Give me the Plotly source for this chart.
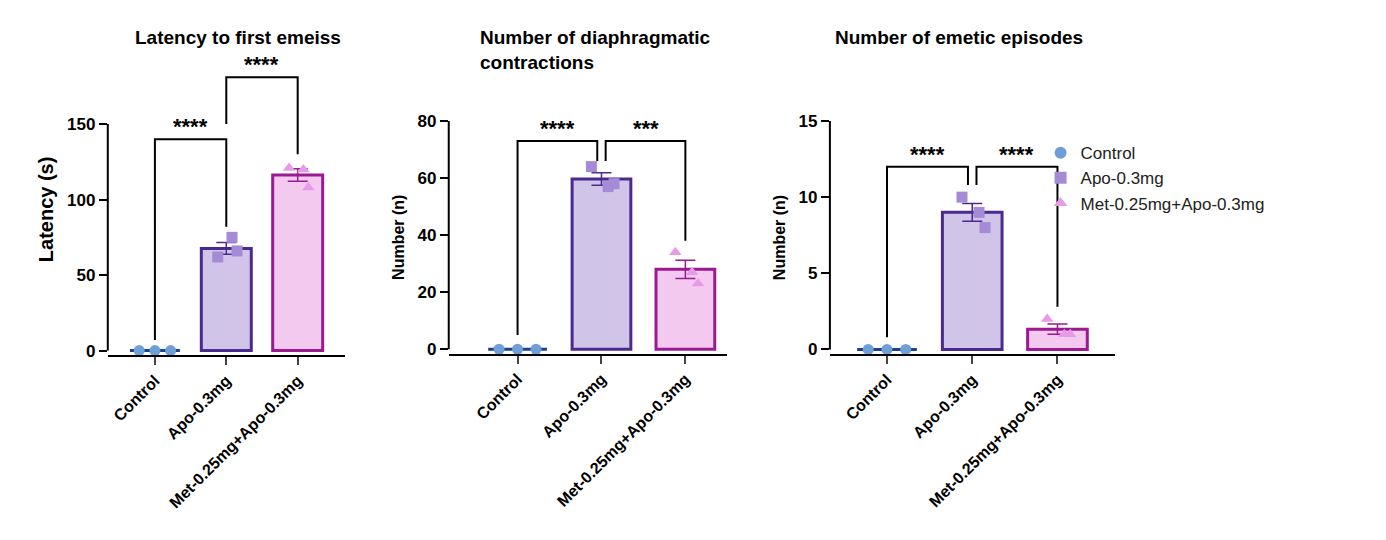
import numpy as np
import plotly.graph_objects as go

groups = ["Control", "Apo-0.3mg", "Met-0.25mg+Apo-0.3mg"]
latency = [[0, 0, 0], [62, 75, 66], [121, 120, 108]]
contractions = [[0, 0, 0], [64, 57, 58], [34, 27, 23]]
episodes = [[0, 0, 0], [10, 9, 8], [2, 1, 1]]

fills = ["#7aa3dc", "#d0c4e8", "#f4c9f0"]
lines = ["#1f3f8f", "#4b2a8f", "#9a1a8f"]
mcols = ["#6f9fd8", "#a58bd6", "#e79be6"]
symbols = ["circle", "square", "triangle-up"]

panels = [
    dict(data=latency, xd=[0.072, 0.243], yd=[0.356, 0.911], xr=[-0.66, 2.66], yr=[-3, 190], ymax=150, dt=50,
         ytitle="Latency (s)", ytf=20, brackets=[(0, 1, 140, 7, 82), (1, 2, 181, 150, 130)],
         stars=["****", "****"]),
    dict(data=contractions, xd=[0.318, 0.519], yd=[0.359, 0.802], xr=[-0.82, 2.5], yr=[-1.5, 80], ymax=80, dt=20,
         ytitle="Number (n)", ytf=16, brackets=[(0, 0.95, 73, 5, 66), (1.05, 2, 73, 66, 38)],
         stars=["****", "***"]),
    dict(data=episodes, xd=[0.593, 0.799], yd=[0.358, 0.802], xr=[-0.67, 2.68], yr=[-0.3, 15], ymax=15, dt=5,
         ytitle="Number (n)", ytf=16, brackets=[(0, 0.95, 12, 0.8, 10.8), (1.05, 2, 12, 10.8, 2.8)],
         stars=["****", "****"]),
]

fig = go.Figure()
for p_i, p in enumerate(panels):
    ax = "" if p_i == 0 else str(p_i + 1)
    xa, ya = "x" + ax, "y" + ax
    for g in range(3):
        vals = np.array(p["data"][g], dtype=float)
        mean = vals.mean()
        sem = vals.std(ddof=1) / np.sqrt(len(vals))
        fig.add_trace(go.Bar(x=[g], y=[mean], width=0.7, marker=dict(color=fills[g], line=dict(color=lines[g], width=3)),
                             error_y=dict(type="data", array=[sem], color=lines[g], thickness=1.5, width=10),
                             showlegend=False, xaxis=xa, yaxis=ya))
        offs = np.array([-0.22, 0, 0.22]) if g == 0 else np.array([-0.12, 0.08, 0.15])
        fig.add_trace(go.Scatter(x=g + offs, y=vals, mode="markers", name=groups[g],
                                 marker=dict(color=mcols[g], symbol=symbols[g], size=11),
                                 showlegend=(p_i == 0), cliponaxis=False, xaxis=xa, yaxis=ya))
    for (a, b, top, la, lb), st in zip(p["brackets"], p["stars"]):
        fig.add_trace(go.Scatter(x=[a, a, b, b], y=[la, top, top, lb], mode="lines",
                                 line=dict(color="black", width=2), showlegend=False,
                                 hoverinfo="skip", xaxis=xa, yaxis=ya))
        fig.add_annotation(x=(a + b) / 2, y=top, xref=xa, yref=ya, text="<b>" + st + "</b>",
                           showarrow=False, yanchor="bottom", yshift=-2, font=dict(size=22, color="black"))
    fig.update_layout(**{
        "xaxis" + ax: dict(domain=p["xd"], range=p["xr"], tickvals=[0, 1, 2],
                            ticktext=["<b>" + t + "</b>" for t in groups], tickangle=-45,
                            showline=True, linecolor="black", linewidth=2, ticks="outside",
                            ticklen=8, tickwidth=2, tickfont=dict(size=16, color="black"),
                            anchor=ya, showgrid=False, zeroline=False, fixedrange=True),
        "yaxis" + ax: dict(domain=p["yd"], range=p["yr"], tickvals=list(range(0, p["ymax"] + 1, p["dt"])),
                            ticktext=["<b>%d</b>" % v for v in range(0, p["ymax"] + 1, p["dt"])],
                            showline=False, ticks="outside", ticklen=8, tickwidth=2, tickcolor="black",
                            tickfont=dict(size=17, color="black"), anchor=xa, showgrid=False, zeroline=False,
                            title=dict(text="<b>" + p["ytitle"] + "</b>", font=dict(size=p["ytf"], color="black"),
                                       standoff=8)),
    })
    fig.add_shape(type="line", xref=xa + " domain", yref=ya, x0=0, x1=0, y0=0, y1=p["ymax"],
                  line=dict(color="black", width=2))

titles = [("<b>Latency to first emeiss</b>", 0.166, 0.985, "center"),
          ("<b>Number of diaphragmatic<br>contractions</b>", 0.339, 0.985, "left"),
          ("<b>Number of emetic episodes</b>", 0.595, 0.985, "left")]
for t, x, y, al in titles:
    fig.add_annotation(text=t, x=x, y=y, xref="paper", yref="paper", showarrow=False,
                       xanchor="center" if al == "center" else "left", yanchor="top", align="left",
                       font=dict(size=19, color="black"))

fig.update_layout(width=1386, height=540, margin=dict(l=0, r=0, t=0, b=0), plot_bgcolor="white",
                  paper_bgcolor="white", font=dict(family="Liberation Sans, Arial, sans-serif"), barmode="overlay",
                  legend=dict(x=0.745, y=0.775, xanchor="left", yanchor="top", font=dict(size=17, color="#222"),
                              bgcolor="rgba(0,0,0,0)", itemsizing="constant", tracegroupgap=12))
fig.write_html("out.html")
